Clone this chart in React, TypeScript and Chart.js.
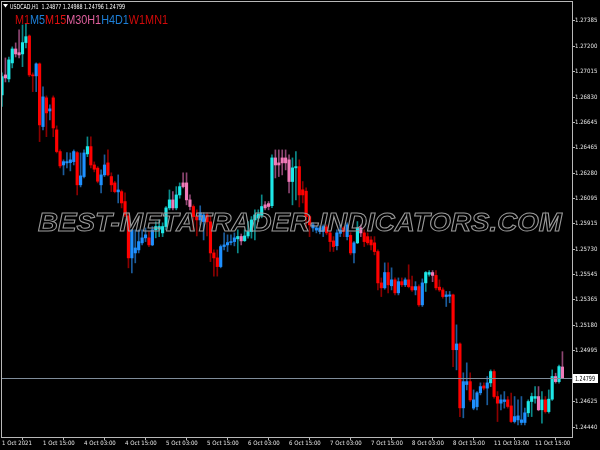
import React, { useEffect, useRef } from "react";
import { Chart, registerables } from "chart.js";

Chart.register(...registerables);

// ---------- data ----------
const symbolHeader = "USDCAD,H1  1.24877 1.24988 1.24796 1.24799";
const tfLabels = ["M1", "M5", "M15", "M30", "H1", "H4", "D1", "W1", "MN1"];
const tfColors = ["#d00a0a", "#1e7fd6", "#e01010", "#e0609e", "#e0609e", "#1e7fd6", "#1e7fd6", "#d00a0a", "#d00a0a"];
const watermark = "BEST-METATRADER-INDICATORS.COM";
const lastPrice = 1.24799;

const xTickIndex = [0, 12, 24, 36, 48, 60, 72, 84, 96, 108, 120, 132, 144, 156];
const xTickLabels = [
  "1 Oct 2021", "1 Oct 15:00", "4 Oct 03:00", "4 Oct 15:00", "5 Oct 03:00", "5 Oct 15:00",
  "6 Oct 03:00", "6 Oct 15:00", "7 Oct 03:00", "7 Oct 15:00", "8 Oct 03:00", "8 Oct 15:00",
  "11 Oct 03:00", "11 Oct 15:00",
];
const yTickValues = [
  1.27385, 1.272, 1.27015, 1.2683, 1.26645, 1.26465, 1.2628, 1.26095, 1.25915,
  1.2573, 1.25545, 1.25365, 1.2518, 1.24995, 1.24625, 1.2444,
];
const yMin = 1.2437;
const yMax = 1.2752;

const opens = [
  1.26847, 1.26992, 1.26963, 1.27079, 1.2718, 1.27153, 1.27144, 1.27226, 1.27274, 1.26992,
  1.26985, 1.27072, 1.26618, 1.26826, 1.26731, 1.26826, 1.26594, 1.26437, 1.2634, 1.26355,
  1.26357, 1.26364, 1.26429, 1.26196, 1.26256, 1.2642, 1.26473, 1.2634, 1.26317, 1.26196,
  1.26268, 1.26355, 1.26256, 1.2621, 1.26145, 1.26147, 1.26075, 1.25971, 1.25667, 1.25703,
  1.25725, 1.25776, 1.25812, 1.25812, 1.25761, 1.2587, 1.25875, 1.25848, 1.25894, 1.26029,
  1.26087, 1.26029, 1.26123, 1.2621, 1.2621, 1.26087, 1.26039, 1.25966, 1.25942, 1.2593,
  1.25978, 1.25928, 1.25703, 1.25667, 1.25604, 1.25749, 1.25761, 1.25778, 1.25785, 1.25805,
  1.25822, 1.25792, 1.25826, 1.25858, 1.25942, 1.25955, 1.25975, 1.26051, 1.2606, 1.26045,
  1.26391, 1.26355, 1.26391, 1.26391, 1.26377, 1.2622, 1.26319, 1.26328, 1.2616, 1.2615,
  1.25966, 1.25884, 1.25868, 1.25858, 1.25858, 1.25891, 1.25848, 1.2579, 1.25755, 1.25845,
  1.25884, 1.25821, 1.2583, 1.25703, 1.25776, 1.25884, 1.25848, 1.25821, 1.25797, 1.25776,
  1.25713, 1.25486, 1.2545, 1.25561, 1.25465, 1.25508, 1.25414, 1.25495, 1.25472, 1.25508,
  1.25459, 1.25435, 1.25459, 1.25327, 1.25486, 1.25548, 1.25561, 1.2554, 1.25455, 1.25435,
  1.25387, 1.2539, 1.25399, 1.25002, 1.25044, 1.24581, 1.2475, 1.24771, 1.24579, 1.2459,
  1.2469, 1.2474, 1.24724, 1.24762, 1.24844, 1.24663, 1.24615, 1.24627, 1.24639, 1.24595,
  1.24482, 1.24494, 1.24475, 1.24475, 1.24545, 1.24627, 1.2465, 1.24663, 1.24567, 1.24639,
  1.24554, 1.24644, 1.24808, 1.24771, 1.24877,
];
const highs = [
  1.27007, 1.27115, 1.27122, 1.27195, 1.27224, 1.27318, 1.27354, 1.27361, 1.27282, 1.27007,
  1.27079, 1.27079, 1.26905, 1.2684, 1.26775, 1.2684, 1.26623, 1.26449, 1.26377, 1.26429,
  1.26427, 1.26449, 1.26437, 1.26427, 1.26449, 1.26543, 1.26543, 1.26362, 1.26328, 1.26304,
  1.26413, 1.26449, 1.26283, 1.26222, 1.26268, 1.26159, 1.26138, 1.25993, 1.2587, 1.2587,
  1.2587, 1.2587, 1.25884, 1.25858, 1.25894, 1.25928, 1.25942, 1.25921, 1.26039, 1.26159,
  1.26147, 1.26183, 1.2621, 1.26283, 1.26283, 1.26123, 1.26051, 1.26015, 1.26044, 1.25993,
  1.25993, 1.25971, 1.25725, 1.25725, 1.25761, 1.25848, 1.25834, 1.25834, 1.25848, 1.2587,
  1.2584, 1.2587, 1.2593, 1.25966, 1.26015, 1.26015, 1.26123, 1.26075, 1.26075, 1.26413,
  1.26449, 1.26449, 1.26449, 1.26449, 1.26413, 1.26391, 1.26437, 1.26377, 1.2622, 1.26174,
  1.25978, 1.25921, 1.25899, 1.25899, 1.25906, 1.25906, 1.25863, 1.25821, 1.2587, 1.25906,
  1.25894, 1.25921, 1.2585, 1.25785, 1.2593, 1.25906, 1.2587, 1.25848, 1.25821, 1.25821,
  1.25725, 1.25522, 1.25631, 1.25631, 1.25595, 1.25522, 1.25522, 1.25522, 1.25522, 1.25617,
  1.25535, 1.25495, 1.25472, 1.25515, 1.25568, 1.25575, 1.25575, 1.25575, 1.25508, 1.2545,
  1.25424, 1.25424, 1.25405, 1.25182, 1.25052, 1.24835, 1.24907, 1.24835, 1.24711, 1.24699,
  1.24762, 1.24762, 1.24808, 1.24856, 1.24856, 1.24699, 1.24675, 1.24699, 1.24663, 1.24688,
  1.24663, 1.24639, 1.24663, 1.24579, 1.24639, 1.24688, 1.24735, 1.24735, 1.24699, 1.24663,
  1.24711, 1.24856, 1.24832, 1.24891, 1.24988,
];
const lows = [
  1.26763, 1.26941, 1.26941, 1.27043, 1.27122, 1.27115, 1.27052, 1.27188, 1.2698, 1.26871,
  1.26871, 1.26509, 1.26594, 1.26545, 1.26666, 1.26545, 1.26427, 1.26319, 1.26268, 1.26319,
  1.26297, 1.2634, 1.26123, 1.26181, 1.26246, 1.264, 1.26319, 1.2629, 1.2621, 1.26138,
  1.26256, 1.26261, 1.26147, 1.26138, 1.26065, 1.26029, 1.25966, 1.25595, 1.25558, 1.25631,
  1.25703, 1.25761, 1.25785, 1.25749, 1.25755, 1.25812, 1.25821, 1.25821, 1.2587, 1.26015,
  1.26015, 1.26015, 1.26099, 1.26174, 1.26051, 1.26015, 1.2587, 1.25826, 1.25906, 1.25797,
  1.25826, 1.2564, 1.25535, 1.25535, 1.25595, 1.25725, 1.25713, 1.25761, 1.25754, 1.25703,
  1.25761, 1.25785, 1.2581, 1.2581, 1.25797, 1.2593, 1.25957, 1.26015, 1.26015, 1.2603,
  1.26246, 1.26256, 1.26268, 1.26304, 1.26138, 1.26051, 1.26087, 1.26036, 1.26065, 1.25884,
  1.25821, 1.25858, 1.25848, 1.25841, 1.25821, 1.25834, 1.25713, 1.25713, 1.25725, 1.25821,
  1.25821, 1.25797, 1.25689, 1.25631, 1.2577, 1.25821, 1.25749, 1.25761, 1.25725, 1.25689,
  1.25435, 1.25387, 1.2544, 1.25414, 1.25435, 1.25399, 1.25399, 1.25459, 1.25459, 1.2545,
  1.25424, 1.25399, 1.25315, 1.25315, 1.25424, 1.25535, 1.25495, 1.25435, 1.25424, 1.25375,
  1.25315, 1.25342, 1.2488, 1.24856, 1.24518, 1.24509, 1.24711, 1.24627, 1.24567, 1.24567,
  1.24675, 1.24711, 1.24603, 1.24735, 1.24651, 1.24482, 1.24567, 1.24579, 1.24579, 1.24475,
  1.24471, 1.24458, 1.24458, 1.24458, 1.24518, 1.24518, 1.24615, 1.2456, 1.24471, 1.24543,
  1.24543, 1.24635, 1.2476, 1.2476, 1.24796,
];
const closes = [
  1.2698, 1.2697, 1.27101, 1.2718, 1.27144, 1.27137, 1.27226, 1.27269, 1.26992, 1.26985,
  1.27072, 1.2663, 1.26833, 1.26717, 1.26746, 1.26608, 1.26437, 1.26333, 1.26364, 1.26364,
  1.26377, 1.26437, 1.26196, 1.26261, 1.26427, 1.26473, 1.2634, 1.26309, 1.26222, 1.26268,
  1.2634, 1.26268, 1.26196, 1.26147, 1.26159, 1.26065, 1.25978, 1.25667, 1.2587, 1.25739,
  1.25785, 1.25812, 1.25834, 1.25761, 1.2587, 1.25894, 1.25894, 1.25894, 1.26029, 1.26087,
  1.26029, 1.26123, 1.26183, 1.26183, 1.26087, 1.26039, 1.25966, 1.25942, 1.25993, 1.25978,
  1.25928, 1.25703, 1.25667, 1.25604, 1.25749, 1.25761, 1.25778, 1.25785, 1.25812, 1.25822,
  1.2579, 1.25826, 1.25858, 1.25942, 1.25978, 1.25985, 1.26039, 1.26029, 1.26039, 1.26391,
  1.2634, 1.2634, 1.26355, 1.26355, 1.2622, 1.26319, 1.26328, 1.26123, 1.26123, 1.25966,
  1.25906, 1.25906, 1.25884, 1.25884, 1.25894, 1.25848, 1.25785, 1.25749, 1.25848, 1.2587,
  1.25858, 1.25906, 1.25703, 1.25776, 1.25884, 1.25848, 1.25785, 1.25776, 1.25761, 1.25713,
  1.25486, 1.2545, 1.25561, 1.25472, 1.25508, 1.25414, 1.25495, 1.25472, 1.25508, 1.25459,
  1.25435, 1.25459, 1.25327, 1.25486, 1.25561, 1.25561, 1.2554, 1.2545, 1.25435, 1.25387,
  1.25399, 1.25399, 1.25002, 1.25044, 1.24581, 1.24771, 1.24771, 1.24639, 1.24639, 1.2469,
  1.24735, 1.24724, 1.24762, 1.24844, 1.24663, 1.24615, 1.24639, 1.24639, 1.24591, 1.24482,
  1.24518, 1.24523, 1.24494, 1.24545, 1.24627, 1.24663, 1.24663, 1.24567, 1.24639, 1.24554,
  1.24644, 1.24808, 1.24771, 1.2488, 1.24799,
];
// r = bearish (down-trend), b = bullish (down-trend), c = bullish (up-trend), p = bearish (up-trend)
const barColorKeys = (
  "cpccppcc" + "rrbrbrbrrrbbbbrbb" + "c" + "rrrbbrrrbrrrbbbbbrb" + "ccccc" + "p" + "cc" + "ppp" +
  "rrbbrrrrbbbbb" + "c" + "p" + "cccccc" + "pp" + "c" + "ppppp" + "cc" +
  "rrrr" + "bbbb" + "rrr" + "bb" + "r" + "b" + "r" + "b" + "c" + "p" +
  "rrrrrr" + "b" + "r" + "b" + "r" + "b" + "r" + "b" + "rr" + "b" + "r" + "b" + "cc" + "p" + "rrr" +
  "bb" + "r" + "b" + "r" + "bb" + "r" + "bbb" + "r" + "b" + "c" + "rr" + "bb" + "rr" + "bbbb" +
  "ccc" + "p" + "c" + "r" + "cc" + "p" + "c" + "p"
).split("");

// ---------- styles ----------
const bodyColor: Record<string, string> = { r: "#ff0000", b: "#1e90ff", c: "#1ee8e8", p: "#f07ab8" };
const wickColor: Record<string, string> = { r: "#8b0000", b: "#1b5c9c", c: "#0b8a8a", p: "#8e4672" };
const frameColor = "#b8b8b8";
const labelColor = "#e6e6e6";
const smallFont = "'Liberation Sans Narrow', 'DejaVu Sans Condensed', 'Liberation Sans', sans-serif";

function drawFitted(
  ctx: CanvasRenderingContext2D, text: string, x: number, baseline: number,
  width: number, font: string, mode: "fill" | "stroke"
) {
  ctx.save();
  ctx.font = font;
  const w = ctx.measureText(text).width;
  ctx.translate(x, baseline);
  ctx.scale(width / w, 1);
  ctx.textAlign = "left";
  ctx.textBaseline = "alphabetic";
  if (mode === "fill") ctx.fillText(text, 0, 0);
  else ctx.strokeText(text, 0, 0);
  ctx.restore();
}

const overlayPlugin = {
  id: "mtOverlay",
  beforeDraw(chart: any) {
    const ctx = chart.ctx as CanvasRenderingContext2D;
    ctx.save();
    ctx.fillStyle = "#000000";
    ctx.fillRect(0, 0, chart.width, chart.height);
    ctx.restore();
  },
  afterDatasetsDraw(chart: any) {
    const ctx = chart.ctx as CanvasRenderingContext2D;
    const ca = chart.chartArea;
    const yScale = chart.scales.y;
    // watermark
    ctx.save();
    ctx.strokeStyle = "#9a9a9a";
    ctx.lineWidth = 1;
    drawFitted(ctx, watermark, 38, 231, 524, "italic bold 25px 'Liberation Sans', Arial, sans-serif", "stroke");
    ctx.restore();
    // last price line
    const py = Math.round(yScale.getPixelForValue(lastPrice)) + 0.5;
    ctx.save();
    ctx.strokeStyle = "#7f8c9a";
    ctx.lineWidth = 1;
    ctx.beginPath();
    ctx.moveTo(ca.left, py);
    ctx.lineTo(ca.right, py);
    ctx.stroke();
    ctx.restore();
  },
  afterDraw(chart: any) {
    const ctx = chart.ctx as CanvasRenderingContext2D;
    const ca = chart.chartArea;
    const yScale = chart.scales.y;
    // frame
    ctx.save();
    ctx.strokeStyle = frameColor;
    ctx.lineWidth = 1;
    ctx.strokeRect(ca.left - 0.5, ca.top - 0.5, ca.right - ca.left + 1, ca.bottom - ca.top + 1);
    ctx.restore();
    // header
    ctx.save();
    ctx.fillStyle = "#ffffff";
    ctx.beginPath();
    ctx.moveTo(3, 4);
    ctx.lineTo(8, 4);
    ctx.lineTo(5.5, 7.5);
    ctx.closePath();
    ctx.fill();
    drawFitted(ctx, symbolHeader, 10, 9, 115, "7px " + smallFont, "fill");
    ctx.restore();
    // timeframe labels
    ctx.save();
    const tfFont = "13px 'Liberation Sans', Arial, sans-serif";
    ctx.font = tfFont;
    const full = tfLabels.join("");
    const totalW = ctx.measureText(full).width;
    const sx = 153 / totalW;
    ctx.translate(15, 23.5);
    ctx.scale(sx, 1);
    let cx = 0;
    tfLabels.forEach((t, i) => {
      ctx.fillStyle = tfColors[i];
      ctx.fillText(t, cx, 0);
      cx += ctx.measureText(t).width;
    });
    ctx.restore();
    // last price box
    const py = Math.round(yScale.getPixelForValue(lastPrice));
    ctx.save();
    ctx.fillStyle = "#ffffff";
    ctx.fillRect(573, py - 4, 25, 9);
    ctx.fillStyle = "#000000";
    drawFitted(ctx, lastPrice.toFixed(5), 575, py + 3, 20, "7px " + smallFont, "fill");
    ctx.restore();
  },
};

export default function App() {
  const canvasRef = useRef<HTMLCanvasElement | null>(null);

  useEffect(() => {
    if (!canvasRef.current) return;
    const idx = opens.map((_, i) => i);
    const bodyData = idx.map((i) => ({
      x: i,
      y: [Math.min(opens[i], closes[i]), Math.max(opens[i], closes[i])],
    }));
    const wickData = idx.map((i) => ({ x: i, y: [lows[i], highs[i]] }));

    const chart = new Chart(canvasRef.current, {
      type: "bar",
      data: {
        datasets: [
          {
            label: "body",
            data: bodyData as any,
            backgroundColor: barColorKeys.map((k) => bodyColor[k]),
            barThickness: 2.5,
            minBarLength: 1,
            grouped: false,
            order: 0,
          } as any,
          {
            label: "wick",
            data: wickData as any,
            backgroundColor: barColorKeys.map((k) => wickColor[k]),
            barThickness: 1,
            minBarLength: 1,
            grouped: false,
            order: 1,
          } as any,
        ],
      },
      options: {
        animation: false,
        responsive: false,
        devicePixelRatio: 1,
        layout: { padding: { left: 2, top: 2, right: 0, bottom: 0 } },
        plugins: { legend: { display: false }, tooltip: { enabled: false }, title: { display: false } },
        scales: {
          x: {
            type: "linear",
            min: 0,
            max: 166.8,
            offset: false,
            afterBuildTicks: (s: any) => {
              s.ticks = xTickIndex.map((v) => ({ value: v }));
            },
            afterFit: (s: any) => {
              s.height = 13;
              s.paddingLeft = 0;
              s.paddingRight = 0;
            },
            grid: { display: true, drawOnChartArea: false, drawTicks: true, tickLength: 3, color: frameColor },
            border: { display: false },
            ticks: {
              autoSkip: false,
              maxRotation: 0,
              minRotation: 0,
              align: "start",
              padding: 0,
              color: labelColor,
              font: { family: smallFont, size: 6 },
              callback: (v: any) => {
                const k = xTickIndex.indexOf(Number(v));
                return k >= 0 ? xTickLabels[k] : "";
              },
            },
          },
          y: {
            type: "linear",
            position: "right",
            min: yMin,
            max: yMax,
            afterBuildTicks: (s: any) => {
              s.ticks = yTickValues.map((v) => ({ value: v }));
            },
            afterFit: (s: any) => {
              s.width = 28;
              s.paddingTop = 0;
              s.paddingBottom = 0;
            },
            grid: { display: true, drawOnChartArea: false, drawTicks: true, tickLength: 3, color: frameColor },
            border: { display: false },
            ticks: {
              autoSkip: false,
              padding: 0,
              color: labelColor,
              font: { family: smallFont, size: 6 },
              callback: (v: any) => Number(v).toFixed(5),
            },
          },
        },
      } as any,
      plugins: [overlayPlugin],
    });
    return () => chart.destroy();
  }, []);

  return (
    <div style={{ position: "fixed", left: 0, top: 0, width: 600, height: 450, background: "#000" }}>
      <canvas ref={canvasRef} width={600} height={450} style={{ display: "block", width: 600, height: 450 }} />
    </div>
  );
}
